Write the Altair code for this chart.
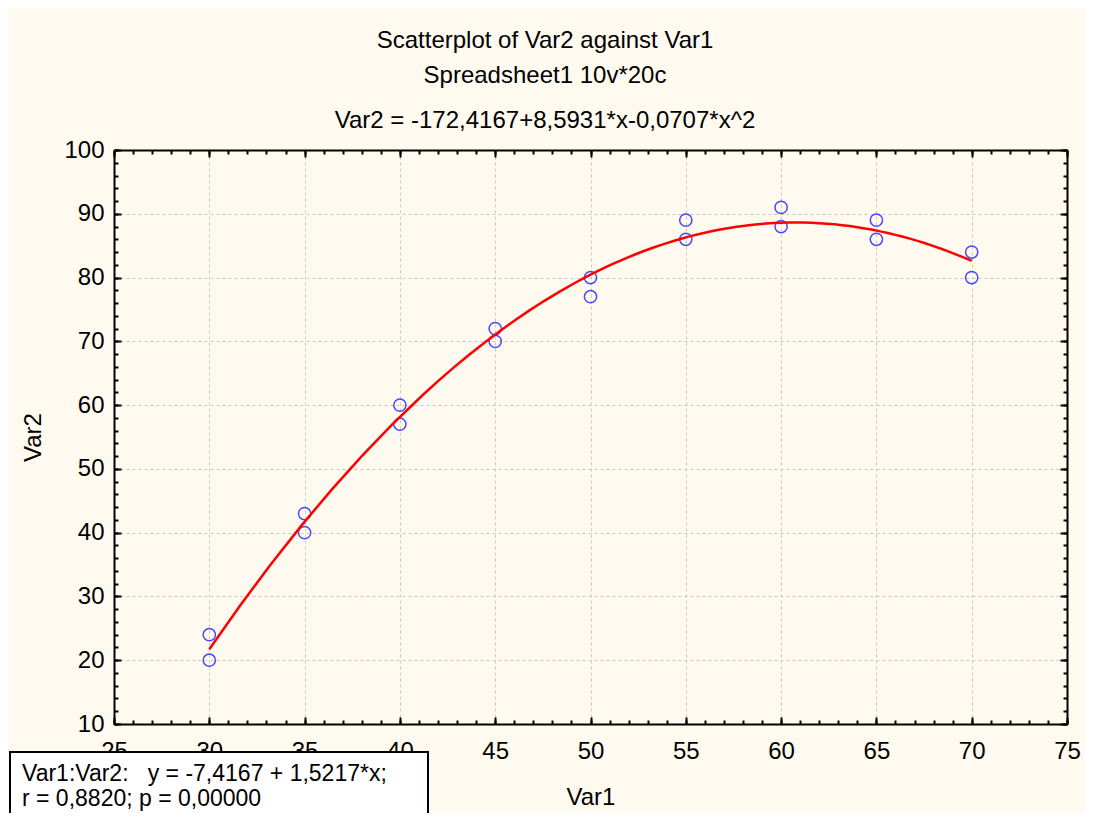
import altair as alt
import pandas as pd

# ---- data ----
var1 = [30, 30, 35, 35, 40, 40, 45, 45, 50, 50, 55, 55, 60, 60, 65, 65, 70, 70]
var2 = [24, 20, 43, 40, 60, 57, 72, 70, 80, 77, 89, 86, 91, 88, 89, 86, 84, 80]

x_major = [25, 30, 35, 40, 45, 50, 55, 60, 65, 70, 75]
x_minor = list(range(25, 76, 1))
y_major = [10, 20, 30, 40, 50, 60, 70, 80, 90, 100]
y_minor = list(range(10, 101, 2))

titles = ["Scatterplot of Var2 against Var1",
          "Spreadsheet1 10v*20c",
          "Var2 = -172,4167+8,5931*x-0,0707*x^2"]
box_lines = ["Var1:Var2:\u00a0\u00a0 y = -7,4167 + 1,5217*x;",
             "r = 0,8820; p = 0,00000"]

df = pd.DataFrame({"var1": var1, "var2": var2})

FONT = "Liberation Sans"
FS = 24
BG = "#FEFAF0"

xs = alt.Scale(domain=[25, 75], nice=False, zero=False)
ys = alt.Scale(domain=[10, 100], nice=False, zero=False)


def ax(orient, values, size, labels=False, grid=False, title="", ticks=True,
       domain=False, **kw):
    return alt.Axis(orient=orient, values=values, tickSize=size, offset=-size,
                    labels=labels, grid=grid, title=title, domain=domain,
                    ticks=ticks,
                    domainColor="black", domainWidth=2,
                    tickColor="black", tickWidth=2,
                    labelFont=FONT, labelFontSize=FS, labelColor="black",
                    labelOverlap=False, labelFlush=False,
                    titleFont=FONT, titleFontSize=FS, titleFontWeight="normal",
                    titleColor="black",
                    gridColor="#c8c8c8", gridDash=[3, 3], gridWidth=1, **kw)


points = alt.Chart(df).mark_point(shape="circle", filled=False, color="#0000ff",
                                  size=150, strokeWidth=1.5).encode(
    x=alt.X("var1:Q", scale=xs,
            axis=ax("bottom", x_major, 7, labels=True, grid=True, title="Var1",
                    labelPadding=15, titlePadding=22)),
    y=alt.Y("var2:Q", scale=ys,
            axis=ax("left", y_major, 7, labels=True, grid=True, title="Var2",
                    labelPadding=10, titlePadding=18)),
)

curve = alt.Chart(df).transform_regression(
    "var1", "var2", method="poly", order=2, extent=[30, 70]
).mark_line(color="#ff0000", strokeWidth=2.5).encode(
    x=alt.X("var1:Q", scale=xs, axis=ax("bottom", x_minor, 4)),
    y=alt.Y("var2:Q", scale=ys, axis=ax("left", y_minor, 4)),
)

top_right_major = alt.Chart(df).mark_point(opacity=0).encode(
    x=alt.X("var1:Q", scale=xs, axis=ax("top", x_major, 7)),
    y=alt.Y("var2:Q", scale=ys, axis=ax("right", y_major, 7)),
)

top_right_minor = alt.Chart(df).mark_point(opacity=0).encode(
    x=alt.X("var1:Q", scale=xs, axis=ax("top", x_minor, 4)),
    y=alt.Y("var2:Q", scale=ys, axis=ax("right", y_minor, 4)),
)

frame_bl = alt.Chart(df).mark_point(opacity=0).encode(
    x=alt.X("var1:Q", scale=xs, axis=ax("bottom", x_major, 0, ticks=False, domain=True)),
    y=alt.Y("var2:Q", scale=ys, axis=ax("left", y_major, 0, ticks=False, domain=True)),
)

frame_tr = alt.Chart(df).mark_point(opacity=0).encode(
    x=alt.X("var1:Q", scale=xs, axis=ax("top", x_major, 0, ticks=False, domain=True)),
    y=alt.Y("var2:Q", scale=ys, axis=ax("right", y_major, 0, ticks=False, domain=True)),
)

title_y = [-109, -74, -29]
title_layers = [
    alt.Chart(pd.DataFrame({"t": [t]})).mark_text(
        font=FONT, fontSize=FS, color="black", align="center", baseline="middle"
    ).encode(x=alt.value(431), y=alt.value(yv), text="t:N")
    for t, yv in zip(titles, title_y)
]

box = alt.Chart(pd.DataFrame({"b": [1]})).mark_rect(
    fill="white", stroke="black", strokeWidth=2
).encode(x=alt.value(-104), x2=alt.value(314), y=alt.value(602), y2=alt.value(680))

box_y = [624, 649]
box_text = [
    alt.Chart(pd.DataFrame({"t": [t]})).mark_text(
        font=FONT, fontSize=23, color="black", align="left", baseline="middle"
    ).encode(x=alt.value(-92), y=alt.value(yv), text="t:N")
    for t, yv in zip(box_lines, box_y)
]

chart = alt.layer(
    points, curve, top_right_major, top_right_minor, frame_bl, frame_tr,
    *title_layers, box, *box_text
).resolve_axis(
    x="independent", y="independent"
).properties(
    width=953, height=574,
    autosize=alt.AutoSizeParams(type="none"),
    padding={"left": 106, "top": 142, "right": 18, "bottom": 89},
    background=BG,
).configure_view(
    fill="white", stroke="black", strokeWidth=2
).configure(font=FONT)

chart.save("out.html", embed_options={"renderer": "svg", "actions": False})
